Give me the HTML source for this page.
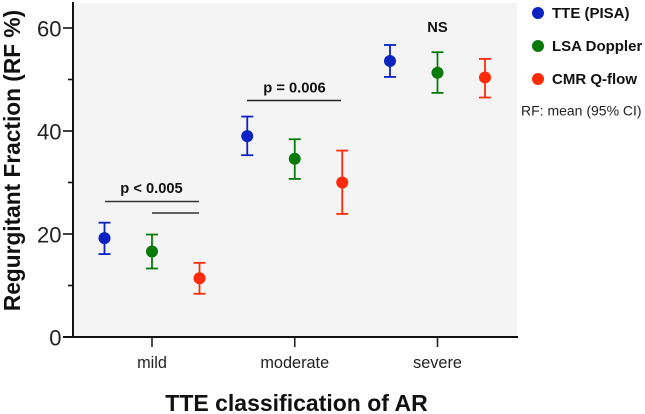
<!DOCTYPE html>
<html>
<head>
<meta charset="utf-8">
<style>
html,body{margin:0;padding:0;background:#fff;}
svg{display:block;font-family:"Liberation Sans",sans-serif;}
</style>
</head>
<body>
<svg id="chart" width="645" height="414" viewBox="0 0 645 414" xmlns="http://www.w3.org/2000/svg">
  <rect x="73" y="3" width="444" height="334" fill="#f4f4f4"/>
  <g id="axes"></g>
  <g id="marks"></g>

  <g fill="#111" font-weight="700" font-size="14.7" text-anchor="middle">
    <text x="151.5" y="193">p &lt; 0.005</text>
    <line x1="105" x2="199" y1="201.5" y2="201.5" stroke="#333" stroke-width="1.4"/>
    <line x1="152" x2="199" y1="213" y2="213" stroke="#333" stroke-width="1.4"/>
    <text x="294.5" y="92.5">p = 0.006</text>
    <line x1="247" x2="341" y1="100.5" y2="100.5" stroke="#222" stroke-width="1.4"/>
    <text x="437.5" y="32">NS</text>
  </g>

  <text transform="translate(20,160.5) rotate(-90)" text-anchor="middle" font-size="22.7" font-weight="700" fill="#111">Regurgitant Fraction (RF %)</text>
  <text x="296.5" y="411" text-anchor="middle" font-size="23" font-weight="700" fill="#111">TTE classification of AR</text>

  <g font-size="15" font-weight="700" fill="#111">
    <circle cx="538" cy="13" r="6" fill="#0a22c0"/>
    <text x="552" y="18">TTE (PISA)</text>
    <circle cx="538" cy="46" r="6" fill="#077a0a"/>
    <text x="552" y="51">LSA Doppler</text>
    <circle cx="538" cy="79" r="6" fill="#ff2a0a"/>
    <text x="552" y="84">CMR Q-flow</text>
    <text x="521" y="115.5" font-weight="400" font-size="14" fill="#222">RF: mean (95% CI)</text>
  </g>
</svg>
<script>
const categories = ['mild', 'moderate', 'severe'];
const seriesNames = ['TTE (PISA)', 'LSA Doppler', 'CMR Q-flow'];
const seriesColors = ['#0a22c0', '#077a0a', '#ff2a0a'];
const tteMean = [19.2, 39.0, 53.6];
const tteLow = [16.1, 35.3, 50.5];
const tteHigh = [22.2, 42.8, 56.7];
const lsaMean = [16.6, 34.6, 51.3];
const lsaLow = [13.3, 30.7, 47.4];
const lsaHigh = [19.9, 38.4, 55.3];
const cmrMean = [11.4, 30.0, 50.4];
const cmrLow = [8.4, 23.9, 46.5];
const cmrHigh = [14.4, 36.2, 54.0];
const yMajorTicks = [0, 20, 40, 60];
const yMinorTicks = [10, 30, 50];

const NS = 'http://www.w3.org/2000/svg';
function yScale(v) { return 337 - v * 5.15; }
function xScale(catIndex, seriesIndex) { return 152 + catIndex * 142.75 + (seriesIndex - 1) * 47.5; }
function make(parent, tag, attrs) {
  const el = document.createElementNS(NS, tag);
  for (const k in attrs) el.setAttribute(k, attrs[k]);
  parent.appendChild(el);
  return el;
}

const axes = document.getElementById('axes');
const yAxisLine = make(axes, 'line', {x1: 73, x2: 73, y1: 2, y2: 338, stroke: '#111', 'stroke-width': 2});


const xAxisLine = make(axes, 'line', {x1: 63, x2: 518, y1: 337, y2: 337, stroke: '#111', 'stroke-width': 2});



yMajorTicks.forEach(function (v) {
  const t = make(axes, 'line', {x1: 63, x2: 73, y1: yScale(v), y2: yScale(v), stroke: '#111', 'stroke-width': 1.6});
  
  
  const l = make(axes, 'text', {x: 61.5, y: yScale(v) + 8.5, 'text-anchor': 'end', 'font-size': 22, fill: '#222'});
  
  
  l.textContent = v;
});
yMinorTicks.forEach(function (v) {
  const t = make(axes, 'line', {x1: 68, x2: 73, y1: yScale(v), y2: yScale(v), stroke: '#111', 'stroke-width': 1.6});
  
  
});
categories.forEach(function (c, i) {
  const x = xScale(i, 1);
  const t = make(axes, 'line', {x1: x, x2: x, y1: 337, y2: 347, stroke: '#222', 'stroke-width': 1.6});
  
  
  const l = make(axes, 'text', {x: x, y: 368, 'text-anchor': 'middle', 'font-size': 16.3, fill: '#222'});
  
  
  l.textContent = c;
});

const marks = document.getElementById('marks');
const means = [tteMean, lsaMean, cmrMean];
const lows = [tteLow, lsaLow, cmrLow];
const highs = [tteHigh, lsaHigh, cmrHigh];
seriesNames.forEach(function (name, s) {
  const color = seriesColors[s];
  const key = name.split(' ')[0].toLowerCase();
  categories.forEach(function (c, i) {
    const x = xScale(i, s);
    const yTop = yScale(highs[s][i]);
    const yBot = yScale(lows[s][i]);
    const g = make(marks, 'g', {stroke: color, 'stroke-width': 1.8, fill: 'none'});
    
    
    make(g, 'line', {x1: x, x2: x, y1: yTop, y2: yBot});
    make(g, 'line', {x1: x - 6, x2: x + 6, y1: yTop, y2: yTop});
    make(g, 'line', {x1: x - 6, x2: x + 6, y1: yBot, y2: yBot});
    make(g, 'circle', {cx: x, cy: yScale(means[s][i]), r: 6, fill: color, stroke: 'none'});
  });
});
</script>
</body>
</html>
